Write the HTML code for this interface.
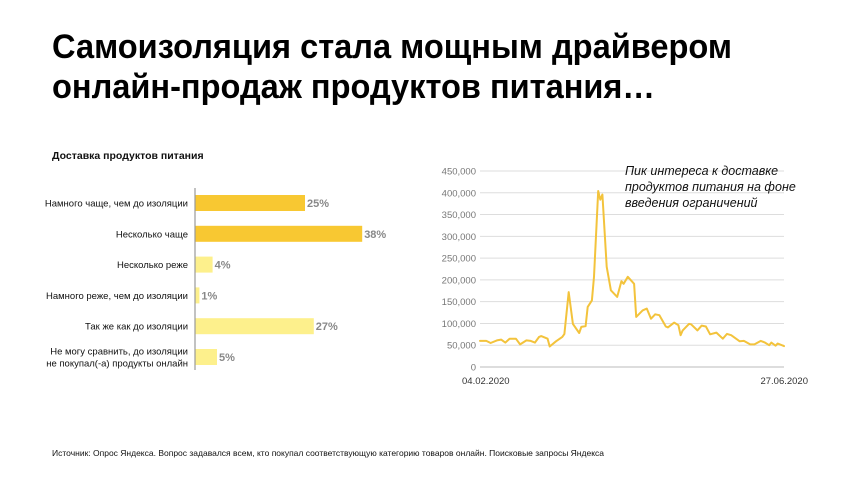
<!DOCTYPE html>
<html><head><meta charset="utf-8"><style>
body{margin:0;background:#fff;font-family:"Liberation Sans",sans-serif}
svg{display:block}
</style></head><body>
<svg width="862" height="481" viewBox="0 0 862 481" xmlns="http://www.w3.org/2000/svg">
<g font-family="Liberation Sans, sans-serif" font-weight="bold" font-size="34" fill="#000">
<text x="52" y="58" textLength="680" lengthAdjust="spacingAndGlyphs">Самоизоляция стала мощным драйвером</text>
<text x="52" y="98" textLength="603" lengthAdjust="spacingAndGlyphs">онлайн-продаж продуктов питания…</text>
</g>
<text x="52" y="159" font-size="10.5" font-weight="bold" fill="#111">Доставка продуктов питания</text>
<g id="bars"></g>
<g id="line"></g>
<g font-size="12.5" font-style="italic" fill="#111">
<text x="625" y="175">Пик интереса к доставке</text>
<text x="625" y="191">продуктов питания на фоне</text>
<text x="625" y="207">введения ограничений</text>
</g>
<text x="52" y="456" font-size="8.5" fill="#111">Источник: Опрос Яндекса. Вопрос задавался всем, кто покупал соответствующую категорию товаров онлайн. Поисковые запросы Яндекса</text>
</svg>
<script>
const barCats=[["Намного чаще, чем до изоляции"],["Несколько чаще"],["Несколько реже"],["Намного реже, чем до изоляции"],["Так же как до изоляции"],["Не могу сравнить, до изоляции","не покупал(-а) продукты онлайн"]];
const barVals=[25,38,4,1,27,5];
const barDark=[true,true,false,false,false,false];

const lineDays=[0,3,5,8,10,12,14,17,19,22,24,26,28,29,32,33,36,39,40,42,44,47,48,50,51,53,54,56,57,58,60,62,65,67,68,70,73,74,77,79,81,83,85,88,89,92,94,95,96,99,100,103,105,107,109,112,115,117,119,123,125,128,130,133,135,137,138,140,141,144];
const lineVals=[60,60,55,61,63,56,65,65,52,61,60,56,69,71,65,47,59,69,76,172,99,78,92,94,138,153,207,404,384,396,230,176,161,197,191,207,191,115,130,134,111,121,119,93,91,102,96,73,84,99,98,84,95,93,75,79,65,76,73,59,60,52,52,60,56,50,56,49,54,48].map(v=>v*1000);
const yTicks=[0,50000,100000,150000,200000,250000,300000,350000,400000,450000];
const xTickLabels=["04.02.2020","27.06.2020"];

const NS="http://www.w3.org/2000/svg";
function mk(tag,attrs,parent){const e=document.createElementNS(NS,tag);for(const k in attrs)e.setAttribute(k,attrs[k]);parent.appendChild(e);return e;}

// bar chart
const bg=document.getElementById('bars');
const bx0=195, bPer=4.4, bTop=188, bStep=30.8;
const bxs=v=>bx0+v*bPer;
barVals.forEach((v,i)=>{
  const cy=bTop+15+i*bStep;
  const r=mk('rect',{x:bx0,y:cy-8,width:bxs(v)-bx0,height:16,fill:barDark[i]?'#f8c832':'#fdf08c'},bg);
  
  
  const t=mk('text',{x:bxs(v)+2,y:cy+4,'font-size':11,'font-weight':'bold',fill:'#888'},bg);
  t.textContent=v+'%';
  
  
  const lines=barCats[i];
  lines.forEach((s,j)=>{
    const l=mk('text',{x:188,y:cy+3.5+(j-(lines.length-1)/2)*12,'font-size':9.5,'text-anchor':'end',fill:'#111'},bg);
    l.textContent=s;
    
    
  });
});
const ax=mk('line',{x1:bx0,x2:bx0,y1:bTop,y2:370,stroke:'#999','stroke-width':1.2},bg);



// line chart
const lg=document.getElementById('line');
const lx0=480,lx1=784,ly0=367,ly1=171;
const xs=d=>lx0+(d-lineDays[0])/(lineDays[lineDays.length-1]-lineDays[0])*(lx1-lx0);
const ys=v=>ly0-v/450000*(ly0-ly1);
yTicks.forEach(t=>{
  const g=mk('line',{x1:lx0,x2:lx1,y1:ys(t),y2:ys(t),stroke:t===0?'#bbb':'#ddd','stroke-width':1},lg);
  
  
  const l=mk('text',{x:476,y:ys(t)+3.5,'font-size':9.5,'text-anchor':'end',fill:'#777'},lg);
  l.textContent=t.toLocaleString('en-US');
  
  
});
const xl1=mk('text',{x:462,y:384,'font-size':9.5,fill:'#333'},lg);
xl1.textContent=xTickLabels[0];


const xl2=mk('text',{x:808,y:384,'font-size':9.5,'text-anchor':'end',fill:'#333'},lg);
xl2.textContent=xTickLabels[1];


const pts=lineDays.map((d,i)=>xs(d).toFixed(1)+','+ys(lineVals[i]).toFixed(1)).join(' ');
const pl=mk('polyline',{points:pts,fill:'none',stroke:'#f3c33c','stroke-width':2,'stroke-linejoin':'round','stroke-linecap':'round'},lg);


</script>
</body></html>
